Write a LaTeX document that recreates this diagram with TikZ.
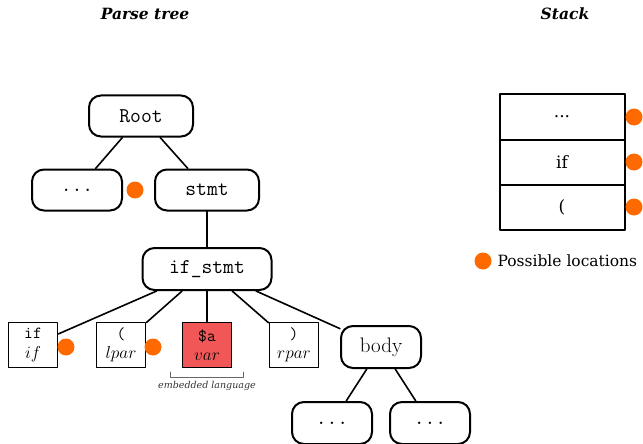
\documentclass[tikz,border=0pt]{standalone}
\usepackage{fontspec}
\newfontfamily\legendfont{DejaVu Serif}
\definecolor{locorange}{HTML}{FF6A00}
\definecolor{langred}{HTML}{F25757}
\tikzset{
  rnode/.style={draw, line width=2pt, rounded corners=12pt, minimum width=104pt, minimum height=41pt, font=\fontsize{21}{24}\selectfont\ttfamily},
  leaf/.style={draw, line width=1.8pt, minimum width=49pt, minimum height=45pt, inner sep=1pt, align=center, font=\fontsize{17}{19.5}\selectfont},
  cell/.style={draw, line width=2pt, minimum width=125pt, minimum height=45pt, font=\legendfont\fontsize{17}{19}\selectfont},
  spot/.style={circle, fill=locorange, inner sep=0pt, minimum size=17pt},
  title/.style={font=\legendfont\fontsize{15.5}{18}\selectfont\bfseries\itshape}
}
\begin{document}
\begin{tikzpicture}[x=1pt, y=-1pt, line join=round, line cap=round]
  \useasboundingbox (0,0) rectangle (643,444);
  \node[title] (ttree) at (145,14) {Parse tree};
  \node[title] (tstack) at (565,14) {Stack};
  % tree
  \node[rnode] (root) at (141,116) {Root};
  \node[rnode, minimum width=90pt] (dots) at (77,190) {...};
  \node[rnode] (stmt) at (207,190) {stmt};
  \node[rnode, minimum width=129pt, minimum height=42pt] (ifstmt) at (207,269) {if\_stmt};
  \node[leaf] (kif) at (33,345) {\texttt{if}\\$if$};
  \node[leaf] (lpar) at (121,345) {\texttt{(}\\$lpar$};
  \node[leaf, fill=langred] (var) at (207,345) {\texttt{\$a}\\$var$};
  \node[leaf] (rpar) at (294,345) {\texttt{)}\\$rpar$};
  \node[rnode, minimum width=80pt, minimum height=42pt, font=\fontsize{21}{24}\selectfont] (body) at (381,347) {body};
  \node[rnode, minimum width=80pt, minimum height=42pt] (bdl) at (332,423) {...};
  \node[rnode, minimum width=80pt, minimum height=42pt] (bdr) at (430,423) {...};
  \draw[line width=1.6pt] (root) -- (dots) (root) -- (stmt) (stmt) -- (ifstmt)
    (ifstmt) -- (kif) (ifstmt) -- (lpar) (ifstmt) -- (var) (ifstmt) -- (rpar) (ifstmt) -- (body)
    (body) -- (bdl) (body) -- (bdr);
  \node[spot] (s1) at (135,190) {};
  \node[spot] (s2) at (66,347) {};
  \node[spot] (s3) at (153,347) {};
  % embedded part
  \draw[gray!80!black, line width=0.9pt] (170,372) -- (170,377) -- (243,377) -- (243,372);
  \node[font=\legendfont\fontsize{9.5}{11}\selectfont\itshape, text=black!80] (emb) at (207,386) {embedded language};
  % stack
  \node[cell] (c1) at (562,117) {...};
  \node[cell] (c2) at (562,162) {if};
  \node[cell] (c3) at (562,207) {(};
  \node[spot] (s4) at (634,117) {};
  \node[spot] (s5) at (634,162) {};
  \node[spot] (s6) at (634,207) {};
  \node[spot] (key) at (483,261) {};
  \node[anchor=west, font=\legendfont\fontsize{15.5}{18}\selectfont] (keytext) at (494,261) {Possible locations};
\end{tikzpicture}
\end{document}
